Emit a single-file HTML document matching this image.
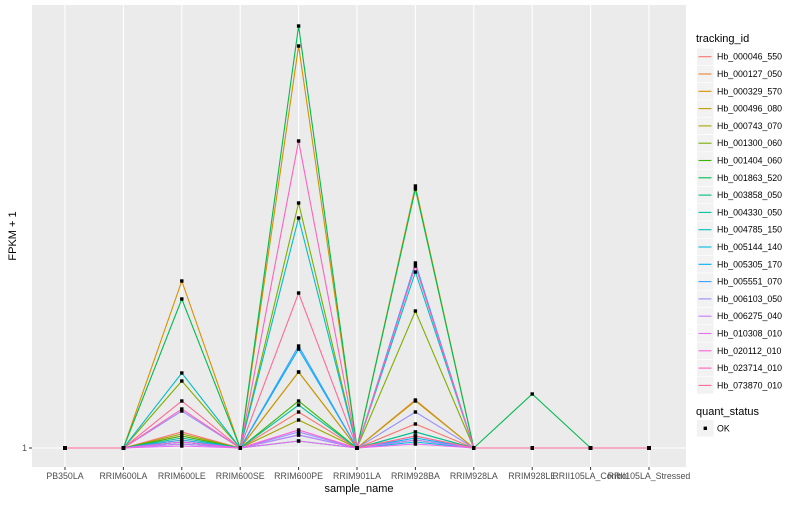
<!DOCTYPE html>
<html><head><meta charset="utf-8"><style>
body{margin:0;background:#fff;font-family:"Liberation Sans",sans-serif}
</style></head><body>
<svg id="c" width="800" height="500" xmlns="http://www.w3.org/2000/svg" font-family="Liberation Sans, sans-serif"></svg>
<script>
const categories=["PB350LA","RRIM600LA","RRIM600LE","RRIM600SE","RRIM600PE","RRIM901LA","RRIM928BA","RRIM928LA","RRIM928LE","RRII105LA_Control","RRII105LA_Stressed"];
const seriesNames=["Hb_000046_550","Hb_000127_050","Hb_000329_570","Hb_000496_080","Hb_000743_070","Hb_001300_060","Hb_001404_060","Hb_001863_520","Hb_003858_050","Hb_004330_050","Hb_004785_150","Hb_005144_140","Hb_005305_170","Hb_005551_070","Hb_006103_050","Hb_006275_040","Hb_010308_010","Hb_020112_010","Hb_023714_010","Hb_073870_010"];
const colors=["#F8766D","#EA8331","#D89000","#C09B00","#A3A500","#7CAE00","#39B600","#00BB4E","#00BF7D","#00C1A3","#00BFC4","#00BAE0","#00B0F6","#35A2FF","#9590FF","#C77CFF","#E76BF3","#FA62DB","#FF62BC","#FF6A98"];
// values at RRIM600LE, RRIM600PE, RRIM928BA (FPKM+1); others are 1
const valLE=[5,4,42.75,3,4.5,17.75,4,38.25,2.5,3.5,19.75,2,2.5,3,10.25,2,1.5,2.5,10.75,12.75];
const valPE=[10,20,101.5,20,8,62.25,12.75,106.5,2.75,11.75,58.5,4.25,25.75,26.5,5,4.25,2.75,5.5,77.75,39.75];
const valBA=[7,13,66.5,12.75,4,35.25,5,65.75,3,5,45,2.5,3.5,47.25,10,3,2,4,46.5,4];
const val928LE=[1,1,1,1,1,1,1,14.5,1,1,1,1,1,1,1,1,1,1,1,1];
const svg=document.getElementById('c');const NS="http://www.w3.org/2000/svg";
function el(t,a,p){const e=document.createElementNS(NS,t);for(const k in a)e.setAttribute(k,a[k]);(p||svg).appendChild(e);return e;}
const L=32,R=686,T=5,B=467;
const xS=i=>65+i*((649-65)/10);
const yS=v=>448-(v-1)*4;
const bg=el('rect',{x:L,y:T,width:R-L,height:B-T,fill:'#EBEBEB'});

const hg=el('line',{x1:L,x2:R,y1:yS(1),y2:yS(1),stroke:'#fff','stroke-width':1.1});

categories.forEach((c,i)=>{
 const g=el('line',{x1:xS(i),x2:xS(i),y1:T,y2:B,stroke:'#fff','stroke-width':1.1});
 
 const tk=el('line',{x1:xS(i),x2:xS(i),y1:B,y2:B+3,stroke:'#333'});
 
 const t=el('text',{x:xS(i),y:B+12,'text-anchor':'middle','font-size':8.8,fill:'#4D4D4D'});t.textContent=c;
 
});
const yt=el('line',{x1:L-3,x2:L,y1:yS(1),y2:yS(1),stroke:'#333'});

const ytl=el('text',{x:L-5,y:yS(1)+3,'text-anchor':'end','font-size':8.8,fill:'#4D4D4D'});ytl.textContent='1';

function vals(s){return categories.map((c,i)=>i==2?valLE[s]:i==4?valPE[s]:i==6?valBA[s]:i==8?val928LE[s]:1);}
seriesNames.forEach((n,s)=>{
 const v=vals(s);
 const p=el('polyline',{points:v.map((y,i)=>xS(i)+','+yS(y)).join(' '),fill:'none',stroke:colors[s],'stroke-width':1.1});
 
});
seriesNames.forEach((n,s)=>{
 vals(s).forEach((y,i)=>{
  const pt=el('rect',{x:xS(i)-1.7,y:yS(y)-1.7,width:3.4,height:3.4,fill:'#000'});
  
 });
});
const xt=el('text',{x:359,y:492,'text-anchor':'middle','font-size':11,fill:'#000'});xt.textContent='sample_name';

const yT=el('text',{x:0,y:0,transform:'translate(16,236) rotate(-90)','text-anchor':'middle','font-size':11,fill:'#000'});yT.textContent='FPKM + 1';

const lt=el('text',{x:696,y:42,'font-size':11,fill:'#000'});lt.textContent='tracking_id';

seriesNames.forEach((n,s)=>{
 const cy=56.7+s*17.3;
 const g=el('g',{});
 
 el('rect',{x:697,y:cy-8.3,width:16.6,height:16.6,fill:'#F2F2F2'},g);
 el('line',{x1:698.5,x2:711.5,y1:cy,y2:cy,stroke:colors[s],'stroke-width':1.1},g);
 const t=el('text',{x:717,y:cy+3,'font-size':8.8,fill:'#000'},g);t.textContent=n;
});
const qt=el('text',{x:696,y:415,'font-size':11,fill:'#000'});qt.textContent='quant_status';

const qg=el('g',{});

el('rect',{x:697,y:420,width:16.6,height:16.6,fill:'#F2F2F2'},qg);
el('rect',{x:703.6,y:426.6,width:3.4,height:3.4,fill:'#000'},qg);
const ok=el('text',{x:717,y:431.5,'font-size':8.8,fill:'#000'},qg);ok.textContent='OK';
</script>
</body></html>
